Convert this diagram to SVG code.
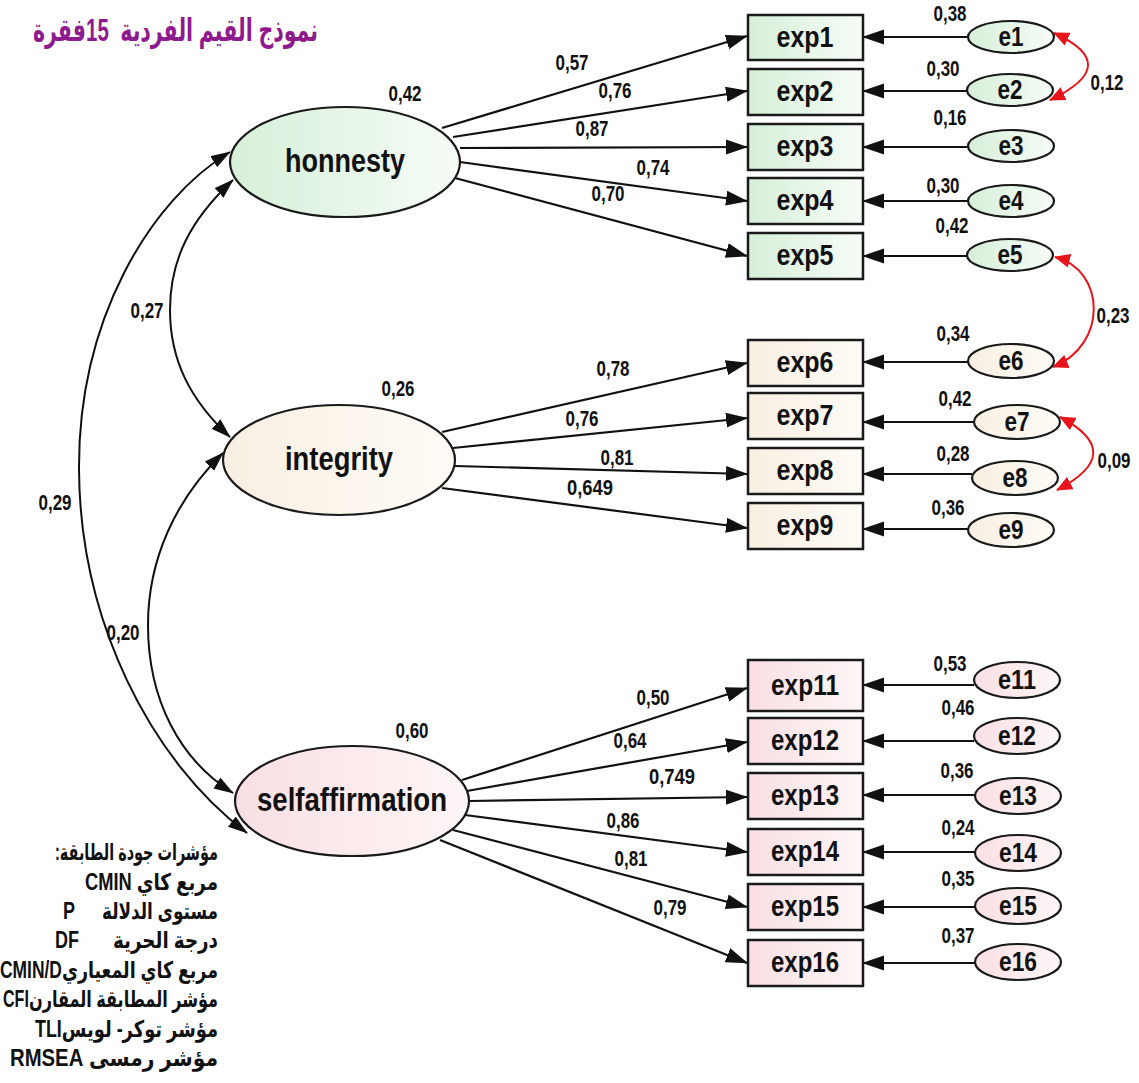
<svg xmlns="http://www.w3.org/2000/svg" width="1139" height="1083" viewBox="0 0 1139 1083">
  <style>
    text { font-family: "Liberation Sans", "DejaVu Sans", sans-serif; font-weight: bold; fill: #111; }
    .num { font-size: 22px; text-anchor: middle; dominant-baseline: central; }
    .lat { font-size: 33px; text-anchor: middle; dominant-baseline: central; }
    .obs { font-size: 29px; text-anchor: middle; dominant-baseline: central; }
    .err { font-size: 28px; text-anchor: middle; dominant-baseline: central; }
    .box { stroke: #1a1a1a; stroke-width: 2.5; }
    .ell { stroke: #1a1a1a; stroke-width: 2.2; }
    .path { fill: none; stroke: #111; stroke-width: 2.2; marker-end: url(#ah); }
    .cov { fill: none; stroke: #111; stroke-width: 2; marker-start: url(#ah2); marker-end: url(#ah2); }
    .rcov { fill: none; stroke: #e8141c; stroke-width: 2; marker-start: url(#rh); marker-end: url(#rh); }
    .title { font-size: 32px; fill: #8e1b8e; white-space: pre; }
    .leg { font-size: 23px; }
  </style>
  <defs>
    <marker id="ah" markerUnits="userSpaceOnUse" markerWidth="22" markerHeight="16" refX="21" refY="8" orient="auto">
      <path d="M0,0.5 L22,8 L0,15.5 z" fill="#111"/>
    </marker>
    <marker id="ah2" markerUnits="userSpaceOnUse" markerWidth="20" markerHeight="14" refX="19" refY="7" orient="auto-start-reverse">
      <path d="M0,0.5 L20,7 L0,13.5 z" fill="#111"/>
    </marker>
    <marker id="rh" markerUnits="userSpaceOnUse" markerWidth="16" markerHeight="14" refX="15" refY="7" orient="auto-start-reverse">
      <path d="M0,0 L16,7 L0,14 z" fill="#e8141c"/>
    </marker>
    <linearGradient id="gGreen" x1="0" y1="0" x2="1" y2="0">
      <stop offset="0" stop-color="#d6efd9"/><stop offset="1" stop-color="#f6fcf6"/>
    </linearGradient>
    <linearGradient id="gCream" x1="0" y1="0" x2="1" y2="0">
      <stop offset="0" stop-color="#f8efe2"/><stop offset="1" stop-color="#fefbf6"/>
    </linearGradient>
    <linearGradient id="gPink" x1="0" y1="0" x2="1" y2="0">
      <stop offset="0" stop-color="#f9dfe3"/><stop offset="1" stop-color="#fef6f6"/>
    </linearGradient>
  </defs>

  <rect width="1139" height="1083" fill="#fff"/>

  <!-- title -->
  <text class="title" x="318" y="41" text-anchor="end" textLength="285" lengthAdjust="spacingAndGlyphs">نموذج القيم الفردية  15فقرة</text>

  <!-- connectors -->
  <g id="connectors">
    <!-- honnesty loadings -->
    <line class="path" x1="442" y1="128" x2="747" y2="36"/>
    <line class="path" x1="453" y1="137" x2="747" y2="91"/>
    <line class="path" x1="460" y1="148" x2="747" y2="147"/>
    <line class="path" x1="460" y1="162" x2="747" y2="201"/>
    <line class="path" x1="455" y1="178" x2="747" y2="256"/>
    <!-- integrity loadings -->
    <line class="path" x1="442" y1="432" x2="747" y2="363"/>
    <line class="path" x1="453" y1="448" x2="747" y2="418"/>
    <line class="path" x1="455" y1="466" x2="747" y2="474"/>
    <line class="path" x1="442" y1="488" x2="747" y2="528"/>
    <!-- selfaffirmation loadings -->
    <line class="path" x1="462" y1="780" x2="747" y2="688"/>
    <line class="path" x1="467" y1="791" x2="747" y2="742"/>
    <line class="path" x1="469" y1="801" x2="747" y2="797"/>
    <line class="path" x1="465" y1="815" x2="747" y2="852"/>
    <line class="path" x1="453" y1="830" x2="747" y2="907"/>
    <line class="path" x1="440" y1="840" x2="747" y2="963"/>
    <!-- error terms -->
    <line class="path" x1="968" y1="37" x2="863" y2="37"/>
    <line class="path" x1="968" y1="91" x2="863" y2="91"/>
    <line class="path" x1="968" y1="147" x2="863" y2="147"/>
    <line class="path" x1="968" y1="201" x2="863" y2="201"/>
    <line class="path" x1="968" y1="256" x2="863" y2="256"/>
    <line class="path" x1="968" y1="362" x2="863" y2="362"/>
    <line class="path" x1="974" y1="422" x2="863" y2="422"/>
    <line class="path" x1="972" y1="474" x2="863" y2="474"/>
    <line class="path" x1="968" y1="529" x2="863" y2="529"/>
    <line class="path" x1="974" y1="685" x2="863" y2="685"/>
    <line class="path" x1="974" y1="741" x2="863" y2="741"/>
    <line class="path" x1="975" y1="795" x2="863" y2="795"/>
    <line class="path" x1="975" y1="852" x2="863" y2="852"/>
    <line class="path" x1="975" y1="907" x2="863" y2="907"/>
    <line class="path" x1="975" y1="963" x2="863" y2="963"/>
    <!-- latent covariances -->
    <path class="cov" d="M233,180 C190,220 170,260 170,310 C170,360 190,400 230,437"/>
    <path class="cov" d="M230,152 C150,200 78,320 79,470 C80,620 150,760 247,833"/>
    <path class="cov" d="M223,453 C175,500 148,560 148,625 C148,700 180,760 233,793"/>
    <!-- error covariances -->
    <path class="rcov" d="M1054,33 Q1124,65 1050,100"/>
    <path class="rcov" d="M1055,257 C1106,270 1108,345 1053,367"/>
    <path class="rcov" d="M1060,417 Q1128,453 1057,490"/>
  </g>

  <!-- latent variables -->
  <g id="honnesty">
    <ellipse class="ell" cx="345" cy="162" rx="115" ry="55" fill="url(#gGreen)"/>
    <text class="lat" x="345" y="160" textLength="120" lengthAdjust="spacingAndGlyphs">honnesty</text>
  </g>
  <g id="integrity">
    <ellipse class="ell" cx="339" cy="460" rx="116" ry="55" fill="url(#gCream)"/>
    <text class="lat" x="339" y="458" textLength="108" lengthAdjust="spacingAndGlyphs">integrity</text>
  </g>
  <g id="selfaffirmation">
    <ellipse class="ell" cx="352" cy="801" rx="117" ry="55" fill="url(#gPink)"/>
    <text class="lat" x="352" y="799" textLength="190" lengthAdjust="spacingAndGlyphs">selfaffirmation</text>
  </g>

  <!-- observed indicators -->
  <g id="exp1"><rect class="box" x="748" y="15" width="115" height="45" fill="url(#gGreen)"/><text class="obs" x="805" y="37" textLength="57" lengthAdjust="spacingAndGlyphs">exp1</text></g>
  <g id="exp2"><rect class="box" x="748" y="69" width="115" height="46" fill="url(#gGreen)"/><text class="obs" x="805" y="91" textLength="57" lengthAdjust="spacingAndGlyphs">exp2</text></g>
  <g id="exp3"><rect class="box" x="748" y="124" width="115" height="46" fill="url(#gGreen)"/><text class="obs" x="805" y="146" textLength="57" lengthAdjust="spacingAndGlyphs">exp3</text></g>
  <g id="exp4"><rect class="box" x="748" y="178" width="115" height="46" fill="url(#gGreen)"/><text class="obs" x="805" y="200" textLength="57" lengthAdjust="spacingAndGlyphs">exp4</text></g>
  <g id="exp5"><rect class="box" x="748" y="233" width="115" height="46" fill="url(#gGreen)"/><text class="obs" x="805" y="255" textLength="57" lengthAdjust="spacingAndGlyphs">exp5</text></g>

  <g id="exp6"><rect class="box" x="748" y="340" width="115" height="46" fill="url(#gCream)"/><text class="obs" x="805" y="362" textLength="57" lengthAdjust="spacingAndGlyphs">exp6</text></g>
  <g id="exp7"><rect class="box" x="748" y="393" width="115" height="46" fill="url(#gCream)"/><text class="obs" x="805" y="415" textLength="57" lengthAdjust="spacingAndGlyphs">exp7</text></g>
  <g id="exp8"><rect class="box" x="748" y="448" width="115" height="46" fill="url(#gCream)"/><text class="obs" x="805" y="470" textLength="57" lengthAdjust="spacingAndGlyphs">exp8</text></g>
  <g id="exp9"><rect class="box" x="748" y="503" width="115" height="46" fill="url(#gCream)"/><text class="obs" x="805" y="525" textLength="57" lengthAdjust="spacingAndGlyphs">exp9</text></g>

  <g id="exp11"><rect class="box" x="748" y="660" width="115" height="51" fill="url(#gPink)"/><text class="obs" x="805" y="685" textLength="68" lengthAdjust="spacingAndGlyphs">exp11</text></g>
  <g id="exp12"><rect class="box" x="748" y="718" width="115" height="46" fill="url(#gPink)"/><text class="obs" x="805" y="740" textLength="68" lengthAdjust="spacingAndGlyphs">exp12</text></g>
  <g id="exp13"><rect class="box" x="748" y="773" width="115" height="46" fill="url(#gPink)"/><text class="obs" x="805" y="795" textLength="68" lengthAdjust="spacingAndGlyphs">exp13</text></g>
  <g id="exp14"><rect class="box" x="748" y="829" width="115" height="46" fill="url(#gPink)"/><text class="obs" x="805" y="851" textLength="68" lengthAdjust="spacingAndGlyphs">exp14</text></g>
  <g id="exp15"><rect class="box" x="748" y="884" width="115" height="46" fill="url(#gPink)"/><text class="obs" x="805" y="906" textLength="68" lengthAdjust="spacingAndGlyphs">exp15</text></g>
  <g id="exp16"><rect class="box" x="748" y="940" width="115" height="46" fill="url(#gPink)"/><text class="obs" x="805" y="962" textLength="68" lengthAdjust="spacingAndGlyphs">exp16</text></g>

  <!-- error terms -->
  <g id="e1"><ellipse class="ell" cx="1011" cy="37" rx="43" ry="16" fill="url(#gGreen)"/><text class="err" x="1011" y="36" textLength="25" lengthAdjust="spacingAndGlyphs">e1</text></g>
  <g id="e2"><ellipse class="ell" cx="1010" cy="90" rx="43" ry="16" fill="url(#gGreen)"/><text class="err" x="1010" y="89" textLength="25" lengthAdjust="spacingAndGlyphs">e2</text></g>
  <g id="e3"><ellipse class="ell" cx="1011" cy="146" rx="43" ry="16" fill="url(#gGreen)"/><text class="err" x="1011" y="145" textLength="25" lengthAdjust="spacingAndGlyphs">e3</text></g>
  <g id="e4"><ellipse class="ell" cx="1011" cy="201" rx="43" ry="16" fill="url(#gGreen)"/><text class="err" x="1011" y="200" textLength="25" lengthAdjust="spacingAndGlyphs">e4</text></g>
  <g id="e5"><ellipse class="ell" cx="1010" cy="255" rx="43" ry="16" fill="url(#gGreen)"/><text class="err" x="1010" y="254" textLength="25" lengthAdjust="spacingAndGlyphs">e5</text></g>

  <g id="e6"><ellipse class="ell" cx="1011" cy="361" rx="43" ry="17" fill="url(#gCream)"/><text class="err" x="1011" y="360" textLength="25" lengthAdjust="spacingAndGlyphs">e6</text></g>
  <g id="e7"><ellipse class="ell" cx="1017" cy="422" rx="43" ry="17" fill="url(#gCream)"/><text class="err" x="1017" y="421" textLength="25" lengthAdjust="spacingAndGlyphs">e7</text></g>
  <g id="e8"><ellipse class="ell" cx="1015" cy="478" rx="43" ry="17" fill="url(#gCream)"/><text class="err" x="1015" y="477" textLength="25" lengthAdjust="spacingAndGlyphs">e8</text></g>
  <g id="e9"><ellipse class="ell" cx="1011" cy="530" rx="43" ry="17" fill="url(#gCream)"/><text class="err" x="1011" y="529" textLength="25" lengthAdjust="spacingAndGlyphs">e9</text></g>

  <g id="e11"><ellipse class="ell" cx="1017" cy="680" rx="43" ry="18" fill="url(#gPink)"/><text class="err" x="1017" y="679" textLength="38" lengthAdjust="spacingAndGlyphs">e11</text></g>
  <g id="e12"><ellipse class="ell" cx="1017" cy="736" rx="43" ry="18" fill="url(#gPink)"/><text class="err" x="1017" y="735" textLength="38" lengthAdjust="spacingAndGlyphs">e12</text></g>
  <g id="e13"><ellipse class="ell" cx="1018" cy="796" rx="43" ry="18" fill="url(#gPink)"/><text class="err" x="1018" y="795" textLength="38" lengthAdjust="spacingAndGlyphs">e13</text></g>
  <g id="e14"><ellipse class="ell" cx="1018" cy="853" rx="43" ry="18" fill="url(#gPink)"/><text class="err" x="1018" y="852" textLength="38" lengthAdjust="spacingAndGlyphs">e14</text></g>
  <g id="e15"><ellipse class="ell" cx="1018" cy="906" rx="43" ry="18" fill="url(#gPink)"/><text class="err" x="1018" y="905" textLength="38" lengthAdjust="spacingAndGlyphs">e15</text></g>
  <g id="e16"><ellipse class="ell" cx="1018" cy="962" rx="43" ry="18" fill="url(#gPink)"/><text class="err" x="1018" y="961" textLength="38" lengthAdjust="spacingAndGlyphs">e16</text></g>

  <!-- coefficients -->
  <g id="estimates">
    <text class="num" x="405" y="93" textLength="33" lengthAdjust="spacingAndGlyphs">0,42</text>
    <text class="num" x="398" y="388" textLength="33" lengthAdjust="spacingAndGlyphs">0,26</text>
    <text class="num" x="412" y="730" textLength="33" lengthAdjust="spacingAndGlyphs">0,60</text>

    <text class="num" x="572" y="62" textLength="33" lengthAdjust="spacingAndGlyphs">0,57</text>
    <text class="num" x="615" y="90" textLength="33" lengthAdjust="spacingAndGlyphs">0,76</text>
    <text class="num" x="592" y="128" textLength="33" lengthAdjust="spacingAndGlyphs">0,87</text>
    <text class="num" x="653" y="167" textLength="33" lengthAdjust="spacingAndGlyphs">0,74</text>
    <text class="num" x="608" y="193" textLength="33" lengthAdjust="spacingAndGlyphs">0,70</text>

    <text class="num" x="613" y="368" textLength="33" lengthAdjust="spacingAndGlyphs">0,78</text>
    <text class="num" x="582" y="418" textLength="33" lengthAdjust="spacingAndGlyphs">0,76</text>
    <text class="num" x="617" y="457" textLength="33" lengthAdjust="spacingAndGlyphs">0,81</text>
    <text class="num" x="590" y="487" textLength="46" lengthAdjust="spacingAndGlyphs">0,649</text>

    <text class="num" x="653" y="697" textLength="33" lengthAdjust="spacingAndGlyphs">0,50</text>
    <text class="num" x="630" y="740" textLength="33" lengthAdjust="spacingAndGlyphs">0,64</text>
    <text class="num" x="672" y="776" textLength="46" lengthAdjust="spacingAndGlyphs">0,749</text>
    <text class="num" x="623" y="820" textLength="33" lengthAdjust="spacingAndGlyphs">0,86</text>
    <text class="num" x="631" y="858" textLength="33" lengthAdjust="spacingAndGlyphs">0,81</text>
    <text class="num" x="670" y="907" textLength="33" lengthAdjust="spacingAndGlyphs">0,79</text>

    <text class="num" x="950" y="13" textLength="33" lengthAdjust="spacingAndGlyphs">0,38</text>
    <text class="num" x="943" y="68" textLength="33" lengthAdjust="spacingAndGlyphs">0,30</text>
    <text class="num" x="950" y="117" textLength="33" lengthAdjust="spacingAndGlyphs">0,16</text>
    <text class="num" x="943" y="185" textLength="33" lengthAdjust="spacingAndGlyphs">0,30</text>
    <text class="num" x="952" y="225" textLength="33" lengthAdjust="spacingAndGlyphs">0,42</text>
    <text class="num" x="953" y="333" textLength="33" lengthAdjust="spacingAndGlyphs">0,34</text>
    <text class="num" x="955" y="398" textLength="33" lengthAdjust="spacingAndGlyphs">0,42</text>
    <text class="num" x="953" y="453" textLength="33" lengthAdjust="spacingAndGlyphs">0,28</text>
    <text class="num" x="948" y="507" textLength="33" lengthAdjust="spacingAndGlyphs">0,36</text>
    <text class="num" x="950" y="663" textLength="33" lengthAdjust="spacingAndGlyphs">0,53</text>
    <text class="num" x="958" y="707" textLength="33" lengthAdjust="spacingAndGlyphs">0,46</text>
    <text class="num" x="957" y="770" textLength="33" lengthAdjust="spacingAndGlyphs">0,36</text>
    <text class="num" x="958" y="827" textLength="33" lengthAdjust="spacingAndGlyphs">0,24</text>
    <text class="num" x="958" y="878" textLength="33" lengthAdjust="spacingAndGlyphs">0,35</text>
    <text class="num" x="958" y="935" textLength="33" lengthAdjust="spacingAndGlyphs">0,37</text>

    <text class="num" x="1107" y="82" textLength="33" lengthAdjust="spacingAndGlyphs">0,12</text>
    <text class="num" x="1113" y="315" textLength="33" lengthAdjust="spacingAndGlyphs">0,23</text>
    <text class="num" x="1114" y="460" textLength="33" lengthAdjust="spacingAndGlyphs">0,09</text>
    <text class="num" x="147" y="310" textLength="33" lengthAdjust="spacingAndGlyphs">0,27</text>
    <text class="num" x="55" y="502" textLength="33" lengthAdjust="spacingAndGlyphs">0,29</text>
    <text class="num" x="123" y="632" textLength="33" lengthAdjust="spacingAndGlyphs">0,20</text>
  </g>

  <!-- fit indices legend -->
  <g id="legend">
    <text class="leg" x="218" y="860" direction="rtl" text-anchor="start" textLength="163" lengthAdjust="spacingAndGlyphs">مؤشرات جودة الطابقة:</text>
    <text class="leg" x="218" y="890" direction="rtl" text-anchor="start" textLength="133" lengthAdjust="spacingAndGlyphs">مربع كاي CMIN</text>
    <text class="leg" x="218" y="919" direction="rtl" text-anchor="start" textLength="116" lengthAdjust="spacingAndGlyphs">مستوى الدلالة</text>
    <text class="leg" x="63" y="919" textLength="12" lengthAdjust="spacingAndGlyphs">P</text>
    <text class="leg" x="218" y="948" direction="rtl" text-anchor="start" textLength="105" lengthAdjust="spacingAndGlyphs">درجة الحرية</text>
    <text class="leg" x="55" y="948" textLength="24" lengthAdjust="spacingAndGlyphs">DF</text>
    <text class="leg" x="218" y="978" direction="rtl" text-anchor="start" textLength="218" lengthAdjust="spacingAndGlyphs">مربع كاي المعياريCMIN/D</text>
    <text class="leg" x="218" y="1007" direction="rtl" text-anchor="start" textLength="215" lengthAdjust="spacingAndGlyphs">مؤشر المطابقة المقارنCFI</text>
    <text class="leg" x="218" y="1037" direction="rtl" text-anchor="start" textLength="183" lengthAdjust="spacingAndGlyphs">مؤشر توكر- لويسTLI</text>
    <text class="leg" x="218" y="1066" direction="rtl" text-anchor="start" textLength="208" lengthAdjust="spacingAndGlyphs">مؤشر رمسى RMSEA</text>
  </g>
</svg>
